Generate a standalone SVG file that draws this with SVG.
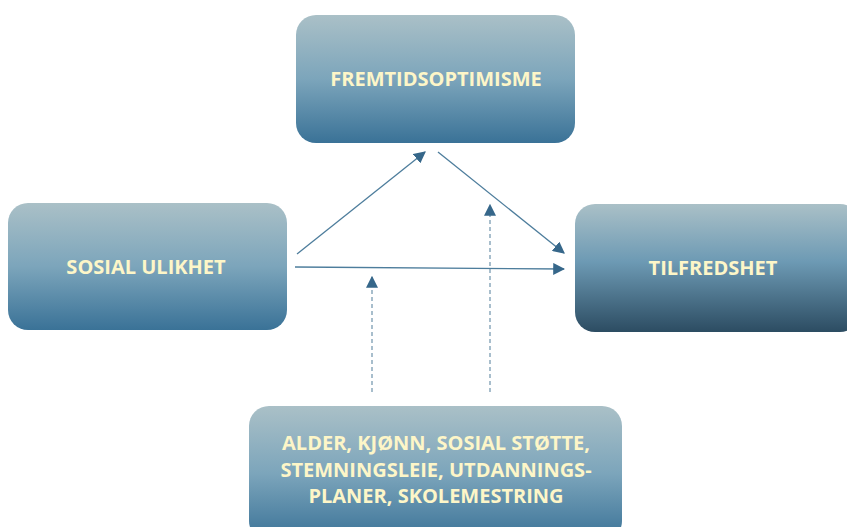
<svg xmlns="http://www.w3.org/2000/svg" width="847" height="527" viewBox="0 0 847 527">
<defs>
<linearGradient id="g1" x1="0" y1="0" x2="0" y2="1">
<stop offset="0" stop-color="#aac0c7"/>
<stop offset="0.5" stop-color="#7ca5bb"/>
<stop offset="1" stop-color="#3a7297"/>
</linearGradient>
<linearGradient id="g2" x1="0" y1="0" x2="0" y2="1">
<stop offset="0" stop-color="#aac0c7"/>
<stop offset="0.45" stop-color="#6d9ab4"/>
<stop offset="1" stop-color="#2c4c62"/>
</linearGradient>
<marker id="ahl" viewBox="0 0 10 10" refX="9" refY="5" markerWidth="12" markerHeight="12" markerUnits="userSpaceOnUse" orient="auto">
<path d="M0,0 L10,5 L0,10 z" fill="#36678a"/>
</marker>
</defs>
<style>
.box{fill:url(#g1);}
.lbl{font-family:"Open Sans","Liberation Sans",sans-serif;font-weight:bold;font-size:20px;fill:#fdf6c8;text-anchor:middle;}
.con{stroke:#4d7d9c;stroke-width:1.3;fill:none;}
.dash{stroke:#7a9cb2;stroke-width:1.3;fill:none;stroke-dasharray:4,3;}
</style>
<rect width="847" height="527" fill="#ffffff"/>
<g id="connectors">
<line class="con" x1="297" y1="254" x2="425" y2="152" marker-end="url(#ahl)"/>
<line class="con" x1="438" y1="152" x2="564" y2="253" marker-end="url(#ahl)"/>
<line class="con" x1="295" y1="267" x2="564" y2="269" marker-end="url(#ahl)"/>
<line class="dash" x1="372" y1="392" x2="372" y2="277" marker-end="url(#ahl)"/>
<line class="dash" x1="490" y1="392" x2="490" y2="205" marker-end="url(#ahl)"/>
</g>
<g id="fremtidsoptimisme">
<rect class="box" x="296" y="15" width="279" height="128" rx="20"/>
<text class="lbl" x="436" y="86">FREMTIDSOPTIMISME</text>
</g>
<g id="sosial-ulikhet">
<rect class="box" x="8" y="203" width="279" height="127" rx="20"/>
<text class="lbl" x="146" y="274">SOSIAL ULIKHET</text>
</g>
<g id="tilfredshet">
<rect x="575" y="204" width="285" height="128" rx="20" fill="url(#g2)"/>
<text class="lbl" x="713" y="275">TILFREDSHET</text>
</g>
<g id="kontroll">
<rect class="box" x="249" y="406" width="373" height="135" rx="20"/>
<text class="lbl" x="436" y="450">ALDER, KJØNN, SOSIAL STØTTE,</text>
<text class="lbl" x="436" y="477">STEMNINGSLEIE, UTDANNINGS-</text>
<text class="lbl" x="436" y="503">PLANER, SKOLEMESTRING</text>
</g>
</svg>
